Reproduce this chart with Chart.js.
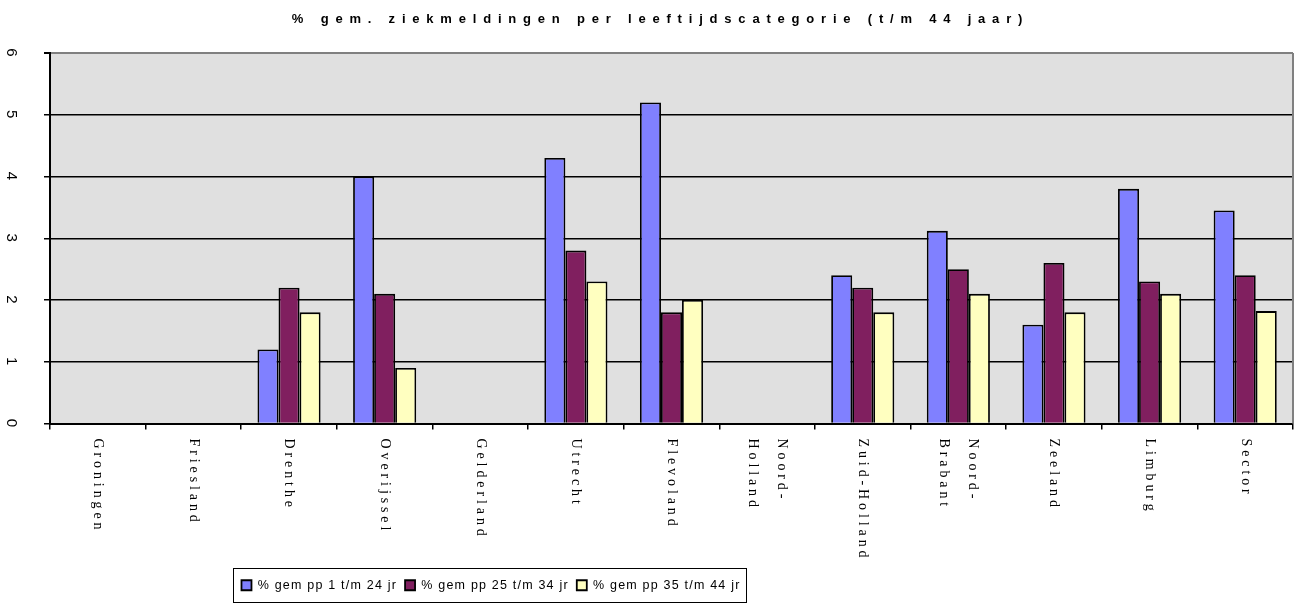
<!DOCTYPE html>
<html lang="nl">
<head>
    <meta charset="UTF-8">
    <title>% gem. ziekmeldingen per leeftijdscategorie</title>
    <style>
        html, body { margin: 0; padding: 0; background: #ffffff; }
        #wrap { width: 1302px; height: 616px; }
    </style>
</head>
<body>
<div id="wrap"><canvas id="myChart"></canvas></div>

<script src="https://cdn.jsdelivr.net/npm/chart.js"></script>
<script>
    // categorieën (provincies) en waarden per leeftijdsgroep
    const provincies = ['Groningen', 'Friesland', 'Drenthe', 'Overijssel', 'Gelderland', 'Utrecht', 'Flevoland',
        ['Noord-', 'Holland'], 'Zuid-Holland', ['Noord-', 'Brabant'], 'Zeeland', 'Limburg', 'Sector'];
    const reeksNamen = ['% gem pp 1 t/m 24 jr', '% gem pp 25 t/m 34 jr', '% gem pp 35 t/m 44 jr'];
    const jr1tm24 = [null, null, 1.2, 4.0, null, 4.3, 5.2, null, 2.4, 3.12, 1.6, 3.8, 3.45];
    const jr25tm34 = [null, null, 2.2, 2.1, null, 2.8, 1.8, null, 2.2, 2.5, 2.6, 2.3, 2.4];
    const jr35tm44 = [null, null, 1.8, 0.9, null, 2.3, 2.0, null, 1.8, 2.1, 1.8, 2.1, 1.82];
    const yMin = 0, yMax = 6, yStap = 1;

    const kleuren = ['#8080ff', '#801f5f', '#ffffc0'];

    // opmaak: achtergrond, letterafstand, verticale x-labels, kader om legenda
    const opmaak = {
        id: 'opmaak',
        beforeUpdate(chart) {
            chart.ctx.letterSpacing = '1.2px';
        },
        afterLayout(chart) {
            const lg = chart.legend;
            const half = (lg.right - lg.left) / 2;
            lg.left = 491 - half;
            lg.right = 491 + half;
        },
        beforeDraw(chart) {
            const {ctx, chartArea: a} = chart;
            ctx.letterSpacing = '1.2px';
            ctx.save();
            ctx.fillStyle = '#e0e0e0';
            ctx.fillRect(a.left, a.top, a.right - a.left, a.bottom - a.top);
            ctx.restore();

            const tb = chart.titleBlock;
            if (tb && !tb._gewrapt) {
                const teken = tb.draw;
                tb.draw = function () {
                    const c = this.ctx;
                    c.save();
                    c.letterSpacing = '6.8px';
                    c.translate(14, 0);
                    teken.apply(this, arguments);
                    c.restore();
                };
                tb._gewrapt = true;
            }
        },
        afterDraw(chart) {
            const {ctx, chartArea: a} = chart;
            ctx.save();
            // rechter rand van het plotvlak
            ctx.strokeStyle = '#808080';
            ctx.lineWidth = 2;
            ctx.beginPath();
            ctx.moveTo(a.right, a.top);
            ctx.lineTo(a.right, a.bottom);
            ctx.stroke();

            // kader om legenda
            const hb = chart.legend.legendHitBoxes;
            if (hb && hb.length) {
                const l = hb[0].left - 8;
                const r = hb[hb.length - 1].left + hb[hb.length - 1].width + 6;
                const cy = hb[0].top + hb[0].height / 2;
                ctx.strokeStyle = '#000';
                ctx.lineWidth = 1;
                ctx.strokeRect(Math.round(l) + 0.5, Math.round(cy - 17) + 0.5, Math.round(r - l), 34);
            }

            // x-labels, van boven naar beneden
            const x = chart.scales.x;
            ctx.letterSpacing = '3.9px';
            ctx.font = '14px "Liberation Serif"';
            ctx.fillStyle = '#000';
            ctx.textAlign = 'left';
            ctx.textBaseline = 'middle';
            provincies.forEach((lab, i) => {
                const regels = [].concat(lab);
                ctx.save();
                ctx.translate(x.getPixelForValue(i), x.top + 15);
                ctx.rotate(Math.PI / 2);
                regels.forEach((t, j) => ctx.fillText(t, 0, (j - (regels.length - 1) / 2) * 29));
                ctx.restore();
            });
            ctx.restore();
        }
    };

    const ctx = document.getElementById('myChart').getContext('2d');

    const myChart = new Chart(ctx, {
        type: 'bar',
        data: {
            labels: provincies,
            datasets: [jr1tm24, jr25tm34, jr35tm44].map((d, i) => ({
                label: reeksNamen[i],
                data: d,
                backgroundColor: kleuren[i],
                borderColor: '#000',
                borderWidth: 1.8,
                categoryPercentage: 0.66,
                barPercentage: 1
            }))
        },
        options: {
            responsive: true,
            maintainAspectRatio: false,
            animation: false,
            events: [],
            layout: { padding: { left: 0, right: 9, top: 0, bottom: 14.5 } },
            scales: {
                x: {
                    grid: {
                        drawOnChartArea: false,
                        offset: true,
                        color: '#000',
                        lineWidth: 1.5,
                        tickLength: 6
                    },
                    border: { color: '#000', width: 2 },
                    ticks: { display: false },
                    afterFit(s) { s.height = 147.5; }
                },
                y: {
                    min: yMin,
                    max: yMax,
                    ticks: {
                        stepSize: yStap,
                        color: '#000',
                        font: { family: 'Liberation Sans', size: 15 },
                        minRotation: -90,
                        crossAlign: 'center',
                        padding: 28
                    },
                    grid: {
                        color: c => (c.tick && c.tick.value === yMax) ? '#808080' : '#000',
                        lineWidth: c => (c.tick && c.tick.value === yMax) ? 2 : 1.5,
                        tickColor: '#000',
                        tickLength: 6
                    },
                    border: { color: '#000', width: 2 },
                    afterFit(s) { s.width = 50; }
                }
            },
            plugins: {
                title: {
                    display: true,
                    text: '% gem. ziekmeldingen per leeftijdscategorie (t/m 44 jaar)',
                    color: '#000',
                    font: { family: 'Liberation Sans', size: 13, weight: 'bold' },
                    padding: { top: 12, bottom: 25.4 }
                },
                legend: {
                    position: 'bottom',
                    labels: {
                        color: '#000',
                        boxWidth: 10,
                        boxHeight: 10,
                        padding: 8,
                        font: { family: 'Liberation Sans', size: 12.5 }
                    }
                },
                tooltip: { enabled: false }
            }
        },
        plugins: [opmaak]
    });
</script>
</body>
</html>
